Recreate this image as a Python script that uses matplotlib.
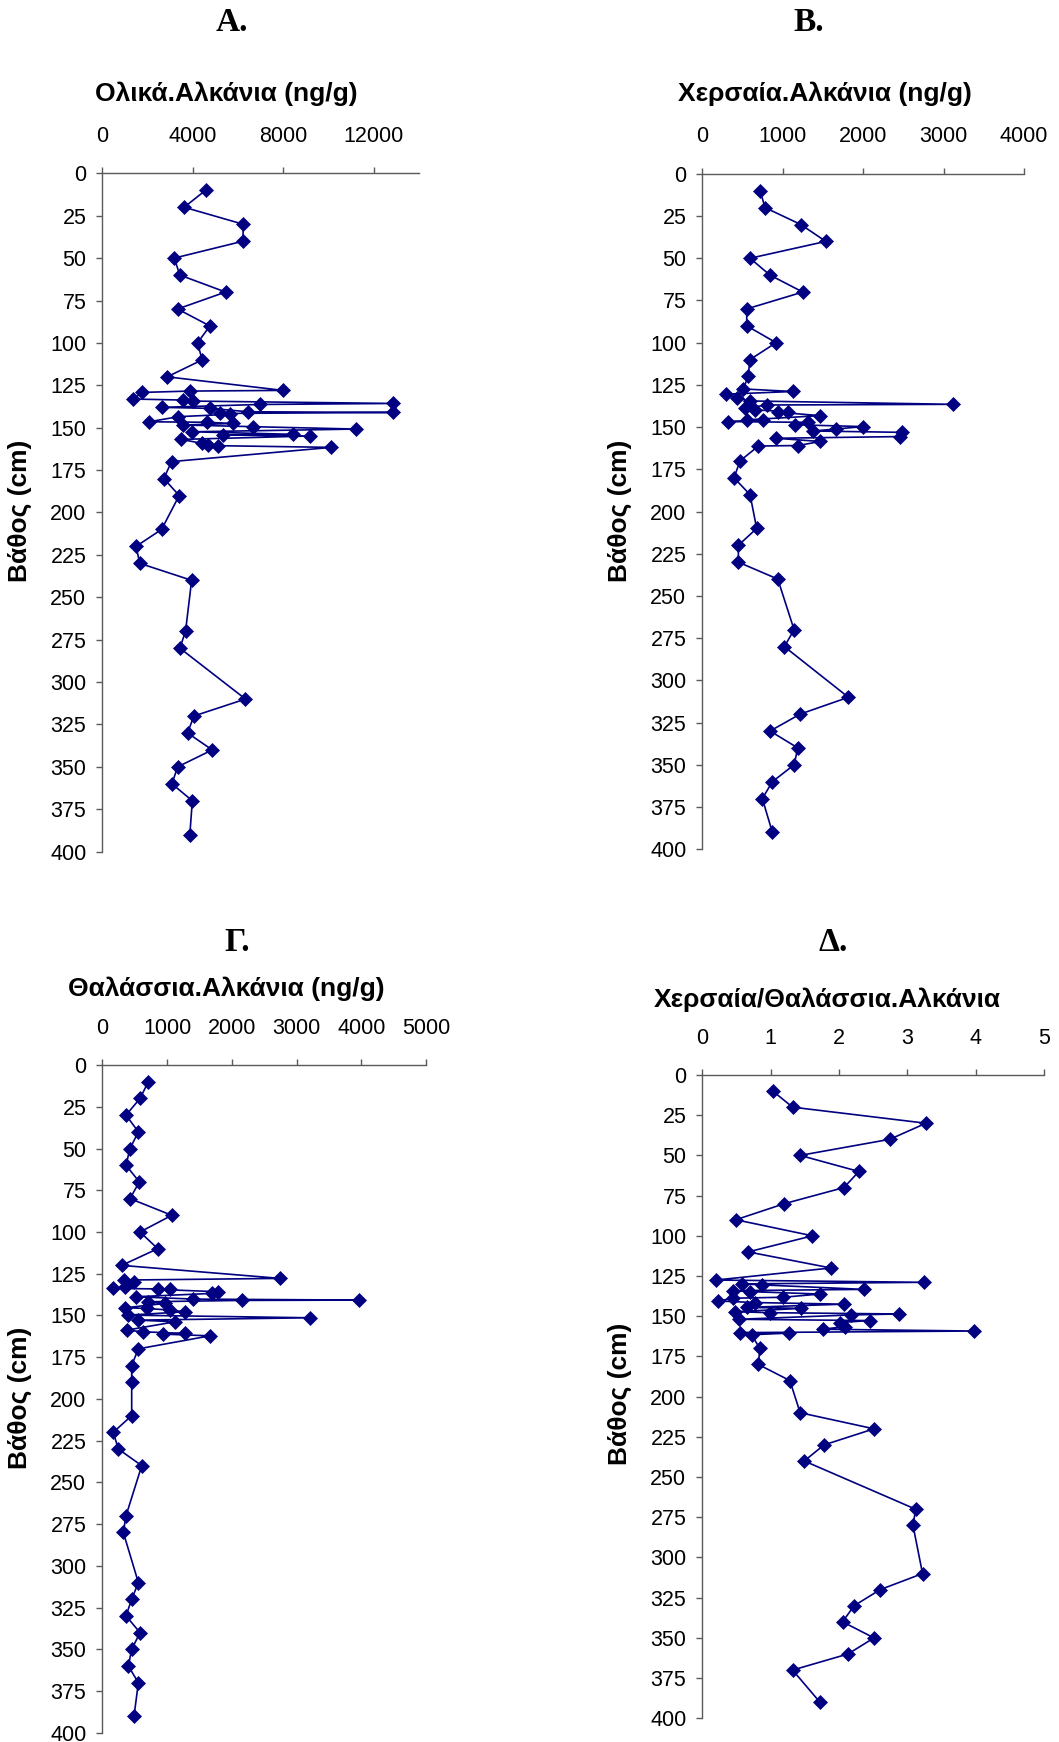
import numpy as np
import matplotlib
matplotlib.use("Agg")
import matplotlib.pyplot as plt

# depth (cm) and concentrations
depth_a = [10, 20, 30, 40, 50, 60, 70, 80, 90, 100, 110, 120,
           128.0, 128.4, 129.2, 133.1, 133.7, 134.3, 135.7, 136.3, 138.0, 138.6,
           140.6, 141.0, 141.6, 142.1, 143.5, 146.5, 146.8, 147.5, 148.4, 149.4,
           150.8, 152.4, 153.9, 154.3, 154.9, 156.9, 159.2, 160.2, 160.6, 161.6,
           170, 180, 190, 210, 220, 230, 240, 270, 280, 310, 320, 330, 340, 350,
           360, 370, 390]
total_alk = [4565, 3620, 6225, 6225, 3180, 3430, 5450, 3330, 4755, 4210, 4415, 2870,
             7990, 3870, 1740, 1370, 3580, 3990, 12850, 6960, 2620, 4760,
             6450, 12850, 5200, 5640, 3360, 2080, 4610, 5790, 3580, 6670,
             11230, 3950, 8430, 5340, 9170, 3500, 4390, 4680, 5120, 10130,
             3060, 2720, 3400, 2620, 1490, 1660, 3950, 3680, 3430, 6330, 4050, 3770,
             4860, 3330, 3080, 3980, 3870]

depth_b = [10, 20, 30, 40, 50, 60, 70, 80, 90, 100, 110, 120,
           127.4, 128.9, 130.5, 132.9, 134.5, 136.5, 136.9, 138.8, 139.8, 140.8,
           141.2, 143.2, 145.7, 146.0, 146.7, 147.2, 148.6, 149.7, 151.1, 152.3,
           153.1, 155.6, 156.6, 158.5, 160.9, 161.2,
           170, 180, 190, 210, 220, 230, 240, 270, 280, 310, 320, 330, 340, 350,
           360, 370, 390]
terr_alk = [718, 780, 1224, 1535, 593, 842, 1249, 552, 552, 917, 593, 568,
            510, 1124, 295, 428, 593, 3115, 801, 531, 656, 1070,
            946, 1464, 552, 759, 323, 1319, 1153, 2003, 1663, 1381,
            2480, 2459, 917, 1464, 1194, 697,
            469, 394, 593, 676, 448, 448, 938, 1141, 1020, 1816, 1215, 842,
            1187, 1141, 871, 746, 871]

depth_c = [10, 20, 30, 40, 50, 60, 70, 80, 90, 100, 110, 120,
           127.8, 128.8, 129.8, 132.8, 133.8, 134.2, 134.4, 135.8, 136.8, 138.8,
           140.2, 140.8, 141.0, 141.8, 142.8, 145.4, 145.8, 146.8, 147.8, 149.8,
           151.4, 152.8, 153.8, 158.8, 159.8, 160.8, 161.2, 162.2,
           170, 180, 190, 210, 220, 230, 240, 270, 280, 310, 320, 330, 340, 350,
           360, 370, 390]
mar_alk = [711, 583, 366, 557, 428, 366, 572, 428, 1073, 583, 856, 300,
           2747, 340, 495, 351, 170, 1047, 866, 1784, 1691, 516,
           1407, 3958, 2155, 711, 969, 351, 686, 1047, 1279, 402,
           3211, 557, 1124, 377, 634, 1279, 943, 1665,
           557, 454, 454, 454, 170, 247, 609, 366, 325, 557, 454, 366,
           583, 454, 402, 557, 490]

depth_d = [10, 20, 30, 40, 50, 60, 70, 80, 90, 100, 110, 120,
           127.5, 128.9, 129.9, 130.5, 133.3, 134.1, 134.7, 136.2, 138.2, 138.8,
           140.5, 141.5, 142.5, 144.5, 145.1, 147.2, 147.8, 148.6, 149.2, 151.9,
           152.7, 153.9, 156.4, 158.1, 159.2, 160.2, 160.5, 161.5,
           170, 180, 190, 210, 220, 230, 240, 270, 280, 310, 320, 330, 340, 350,
           360, 370, 390]
ratio = [1.03, 1.32, 3.27, 2.74, 1.43, 2.29, 2.07, 1.20, 0.49, 1.61, 0.67, 1.88,
         0.20, 3.24, 0.58, 0.87, 2.36, 0.45, 0.70, 1.72, 1.18, 0.45,
         0.23, 0.77, 2.07, 0.65, 1.45, 0.48, 0.99, 2.87, 2.18, 0.53,
         2.45, 2.01, 2.09, 1.76, 3.97, 0.55, 1.26, 0.72,
         0.84, 0.82, 1.28, 1.43, 2.51, 1.78, 1.49, 3.12, 3.08, 3.22, 2.60, 2.22,
         2.05, 2.51, 2.13, 1.32, 1.72]

depth_ticks = list(range(0, 401, 25))

sans = ['Liberation Sans', 'DejaVu Sans']
serif = ['Liberation Serif', 'DejaVu Serif']
navy = '#000080'
axis_col = '#5a5a5a'

fig = plt.figure(figsize=(10.59, 17.42), dpi=100)


def draw_panel(rect, depth, vals, xmax, xticks):
    ax = fig.add_axes(rect)
    ax.plot(vals, depth, color=navy, lw=1.2, marker='D', ms=7,
            mfc=navy, mec=navy, mew=0.5, clip_on=False)
    ax.set_xlim(0, xmax)
    ax.set_ylim(400, 0)
    ax.set_xticks(xticks)
    ax.set_yticks(depth_ticks)
    ax.xaxis.tick_top()
    for s in ['right', 'bottom']:
        ax.spines[s].set_visible(False)
    for s in ['left', 'top']:
        ax.spines[s].set_color(axis_col)
        ax.spines[s].set_linewidth(1.0)
    ax.tick_params(axis='x', direction='out', length=4, width=1.0,
                   color=axis_col, pad=15, labelsize=15.5)
    ax.tick_params(axis='y', direction='out', length=4.5, width=1.0,
                   color=axis_col, pad=7, labelsize=15.5)
    for lab in ax.get_xticklabels() + ax.get_yticklabels():
        lab.set_family(sans)
    ax.patch.set_alpha(0)
    return ax


draw_panel([0.0966, 0.5111, 0.299, 0.3894], depth_a, total_alk, 14000, [0, 4000, 8000, 12000])
draw_panel([0.6632, 0.5125, 0.3038, 0.3877], depth_b, terr_alk, 4000, [0, 1000, 2000, 3000, 4000])
draw_panel([0.0966, 0.0053, 0.3057, 0.3833], depth_c, mar_alk, 5000, [0, 1000, 2000, 3000, 4000, 5000])
draw_panel([0.6632, 0.0136, 0.3229, 0.3693], depth_d, ratio, 5, [0, 1, 2, 3, 4, 5])

# panel letters
for x, y, t in [(0.219, 0.987, 'A.'), (0.764, 0.987, 'B.'),
                (0.224, 0.459, 'Γ.'), (0.787, 0.459, 'Δ.')]:
    fig.text(x, y, t, family=serif, fontweight='bold', fontsize=24,
             ha='center', va='center')

# axis titles
for x, y, t in [(0.2134, 0.946, 'Ολικά.Αλκάνια (ng/g)'),
                (0.779, 0.946, 'Χερσαία.Αλκάνια (ng/g)'),
                (0.2134, 0.4323, 'Θαλάσσια.Αλκάνια (ng/g)'),
                (0.781, 0.4260, 'Χερσαία/Θαλάσσια.Αλκάνια')]:
    fig.text(x, y, t, family=sans, fontweight='bold', fontsize=19,
             ha='center', va='center')

# depth labels
for x, y in [(0.0189, 0.7067), (0.5855, 0.7067), (0.0189, 0.1975), (0.5855, 0.1998)]:
    fig.text(x, y, 'Βάθος (cm)', family=sans, fontweight='bold', fontsize=19,
             rotation=90, ha='center', va='center')

fig.savefig('out.png', dpi=100)
